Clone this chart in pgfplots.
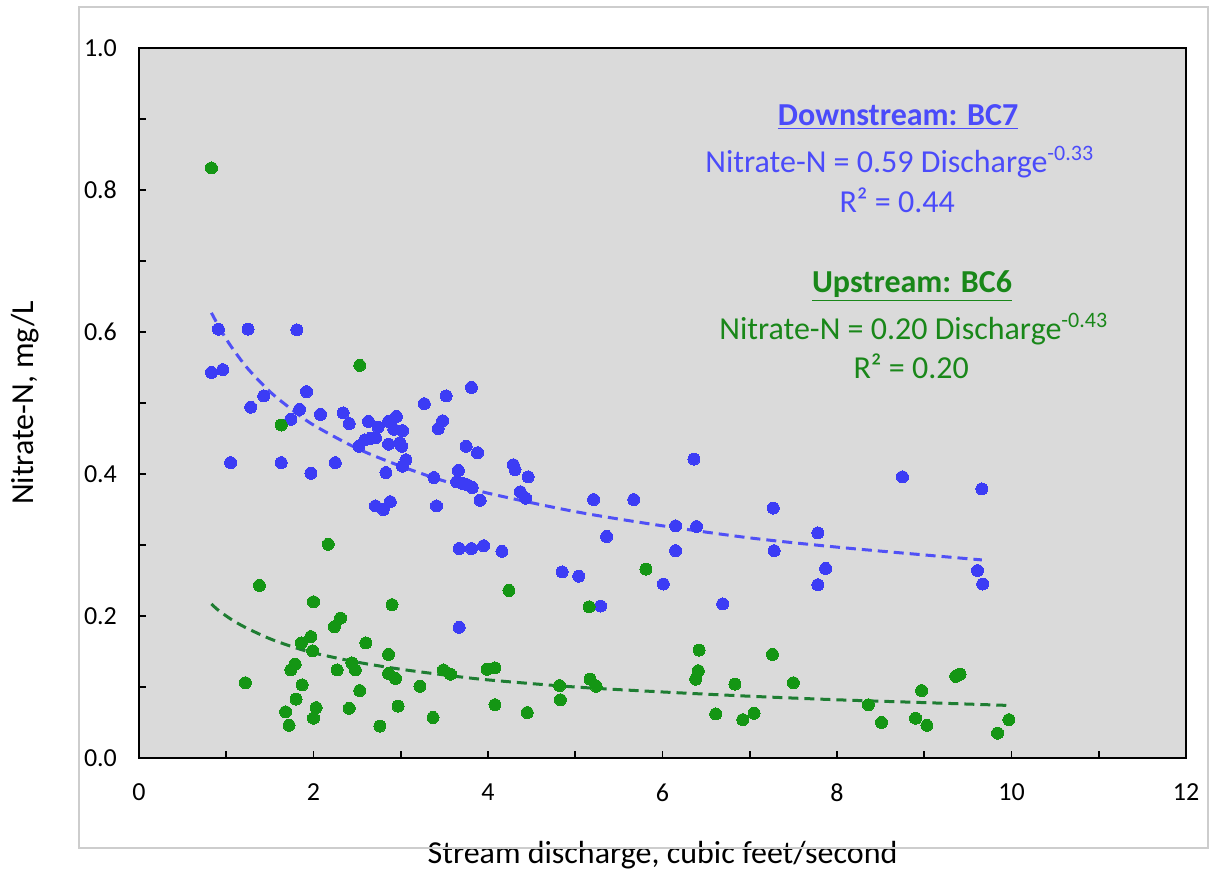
\documentclass[border=0pt]{standalone}
\usepackage{pgfplots}
\pgfplotsset{compat=1.18}
\usepackage{fontspec}
\setmainfont{Carlito}

\definecolor{bcblue}{RGB}{60,60,245}
\definecolor{bcgreen}{RGB}{20,150,20}
\definecolor{bcgreenline}{RGB}{30,125,50}
\definecolor{plotbg}{RGB}{218,218,218}
\definecolor{framegray}{RGB}{205,205,205}
\definecolor{textblue}{RGB}{75,75,250}
\definecolor{textgreen}{RGB}{25,135,25}

% Downstream site BC7: discharge (cfs), nitrate-N (mg/L)
\pgfplotstableread{
x y
0.91 0.604
1.25 0.604
1.81 0.603
0.83 0.543
0.96 0.547
1.92 0.516
1.43 0.510
1.28 0.494
3.27 0.499
1.84 0.491
1.74 0.477
2.08 0.484
2.34 0.486
2.41 0.471
2.63 0.474
2.74 0.466
2.86 0.474
2.95 0.481
2.92 0.463
3.02 0.461
2.65 0.450
2.71 0.451
2.59 0.448
2.52 0.439
2.86 0.442
2.99 0.444
3.01 0.439
3.06 0.420
3.02 0.411
1.05 0.416
1.63 0.416
2.25 0.416
1.97 0.401
2.83 0.402
3.43 0.464
3.48 0.475
3.75 0.439
3.88 0.430
3.38 0.395
3.66 0.405
3.64 0.389
3.70 0.387
3.76 0.385
3.82 0.381
3.91 0.363
3.41 0.355
4.29 0.413
4.31 0.406
4.46 0.396
4.37 0.375
4.43 0.366
2.71 0.355
2.80 0.350
2.88 0.361
3.67 0.295
3.81 0.295
3.95 0.299
4.16 0.291
4.85 0.262
5.04 0.256
3.81 0.522
3.52 0.510
5.21 0.364
5.67 0.364
6.36 0.421
6.15 0.327
6.39 0.326
8.75 0.396
9.66 0.379
7.27 0.352
5.36 0.312
7.78 0.317
6.15 0.292
7.28 0.292
7.87 0.267
9.61 0.264
6.01 0.245
7.78 0.244
9.67 0.245
5.29 0.214
6.69 0.217
3.67 0.184
}\downstream

% Upstream site BC6: discharge (cfs), nitrate-N (mg/L)
\pgfplotstableread{
x y
0.83 0.831
2.53 0.553
1.63 0.469
2.17 0.301
1.38 0.243
4.24 0.236
2.00 0.220
2.90 0.216
2.31 0.197
2.24 0.185
1.97 0.171
1.86 0.162
2.60 0.162
1.99 0.151
2.86 0.146
1.79 0.132
1.74 0.124
2.27 0.124
2.44 0.134
2.48 0.124
2.86 0.119
2.94 0.112
3.49 0.124
3.57 0.118
3.99 0.125
4.08 0.127
1.22 0.106
1.87 0.103
3.22 0.101
2.53 0.095
1.80 0.083
1.68 0.065
2.03 0.071
2.41 0.070
2.97 0.073
4.08 0.075
4.45 0.064
1.72 0.046
2.00 0.056
2.76 0.045
3.37 0.057
5.81 0.266
5.16 0.213
6.42 0.152
7.26 0.146
6.41 0.123
6.38 0.111
5.17 0.111
5.24 0.101
4.82 0.102
4.83 0.082
6.83 0.104
7.50 0.106
6.61 0.062
6.92 0.054
7.05 0.063
8.36 0.075
8.51 0.050
8.97 0.095
8.90 0.056
9.03 0.046
9.36 0.115
9.41 0.118
9.84 0.035
9.97 0.054
}\upstream

\begin{document}
\begin{tikzpicture}
\begin{axis}[
  at={(0,0)}, anchor=south west,
  scale only axis, width=523.5pt, height=355pt,
  xmin=0, xmax=12, ymin=0, ymax=1,
  axis background/.style={fill=plotbg},
  axis line style={line width=1pt, black},
  tick align=inside,
  xtick pos=left, ytick pos=left,
  xtick={0,2,...,12}, minor xtick={1,3,...,11},
  ytick={0,0.2,0.4,0.6,0.8,1.0}, minor ytick={0.1,0.3,0.5,0.7,0.9},
  major tick length=3.5pt, minor tick length=3.5pt,
  every tick/.style={black, line width=0.9pt},
  scaled ticks=false,
  /pgf/number format/assume math mode=true,
  ticklabel style={font=\fontsize{13}{15}\selectfont, text=black},
  xticklabel style={yshift=-9.5pt},
  yticklabel style={xshift=-7.5pt, /pgf/number format/fixed,
    /pgf/number format/fixed zerofill, /pgf/number format/precision=1},
  xlabel={Stream discharge, cubic feet/second},
  ylabel={Nitrate-N, mg/L},
  label style={font=\fontsize{16}{19}\selectfont},
  xlabel style={at={(axis description cs:0.5,-0.1366)}, anchor=center},
  ylabel style={at={(axis description cs:-0.1089,0.5)}, anchor=center},
  clip=false,
]

\addplot[only marks, mark=*, mark size=3pt, color=bcblue,
  mark options={fill=bcblue, draw=bcblue, line width=0pt}]
  table[x=x, y=y] {\downstream};
\addplot[only marks, mark=*, mark size=3pt, color=bcgreen,
  mark options={fill=bcgreen, draw=bcgreen, line width=0pt}]
  table[x=x, y=y] {\upstream};

% power-law fit, BC7: 0.59 Q^-0.33
\addplot[smooth, bcblue!90!white, line width=1.5pt, dash pattern=on 5pt off 3pt]
  coordinates {(0.83,0.627) (0.9,0.611) (1,0.590) (1.1,0.572) (1.25,0.548)
  (1.5,0.516) (1.75,0.491) (2,0.469) (2.5,0.436) (3,0.411) (3.5,0.390)
  (4,0.373) (5,0.347) (6,0.327) (7,0.310) (8,0.297) (9,0.286) (9.66,0.279)};
% power-law fit, BC6: 0.20 Q^-0.43
\addplot[smooth, bcgreenline, line width=1.5pt, dash pattern=on 5pt off 3pt]
  coordinates {(0.83,0.217) (0.9,0.209) (1,0.200) (1.1,0.192) (1.25,0.182)
  (1.5,0.168) (1.75,0.157) (2,0.148) (2.5,0.135) (3,0.125) (3.5,0.117)
  (4,0.110) (5,0.100) (6,0.093) (7,0.087) (8,0.082) (9,0.078) (9.97,0.074)};

\begin{scope}[every node/.style={font=\fontsize{16}{19}\selectfont, anchor=base, inner sep=0pt}]
\node[text=textblue] at (axis cs:8.70,0.8915) {\underline{\textbf{Downstream: BC7}}};
\node[text=textblue] at (axis cs:8.72,0.824) {Nitrate-N = 0.59 Discharge\textsuperscript{\fontsize{11}{13}\selectfont -0.33}};
\node[text=textblue] at (axis cs:8.69,0.769) {R² = 0.44};
\node[text=textgreen] at (axis cs:8.86,0.655) {\underline{\textbf{Upstream: BC6}}};
\node[text=textgreen] at (axis cs:8.88,0.589) {Nitrate-N = 0.20 Discharge\textsuperscript{\fontsize{11}{13}\selectfont -0.43}};
\node[text=textgreen] at (axis cs:8.85,0.535) {R² = 0.20};
\end{scope}
\end{axis}
% thin outer frame of the chart area
\draw[framegray, line width=0.6pt] (-30pt,-45pt) rectangle (534.5pt,375.5pt);
\pgfresetboundingbox
\path[use as bounding box] (-69.5pt,-56.5pt) rectangle (535pt,379pt);
\end{tikzpicture}
\end{document}
